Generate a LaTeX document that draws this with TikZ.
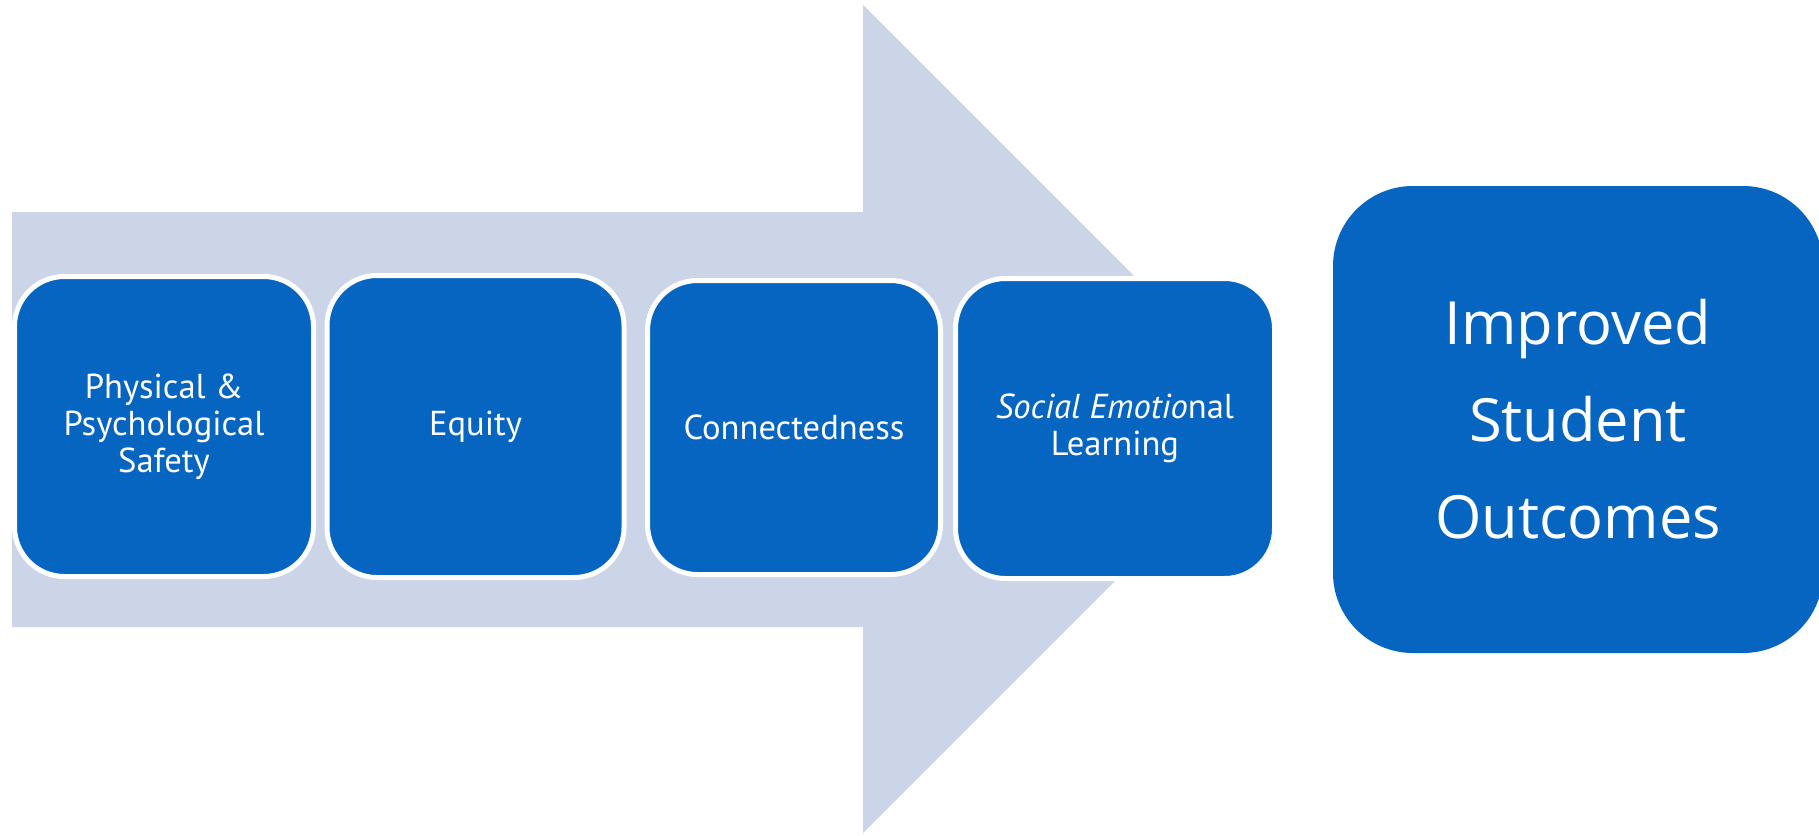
\documentclass[tikz,border=0pt]{standalone}
\usepackage{fontspec}
\setmainfont{PT Sans}
\newfontfamily\outfont{Open Sans}
\definecolor{arrowblue}{RGB}{204,212,232}
\definecolor{boxblue}{RGB}{5,101,192}
\begin{document}
\begin{tikzpicture}[x=.5pt, y=-.5pt,
  box/.style={fill=boxblue, draw=white, line width=2.5pt, rounded corners=25pt,
    text=white, align=center, inner sep=0pt,
    font=\fontsize{17.3}{18.6}\selectfont},
  bigbox/.style={fill=boxblue, rounded corners=40pt, text=white, align=center,
    inner sep=0pt, minimum width=245pt, minimum height=233.5pt,
    font=\outfont\fontsize{29.8}{48.5}\selectfont}]

\clip (0,0) rectangle (1819,835);
\fill[white] (0,0) rectangle (1819,835);

\fill[arrowblue] (12,212)--(863,212)--(863,5)--(1277,419)--(863,833)--(863,627)--(12,627)--cycle;

\node[box, minimum width=149.5pt, minimum height=150pt] (safety) at (164,426.5) {Physical \&\\Psychological\\Safety};
\node[box, minimum width=148.5pt, minimum height=151pt] (equity) at (475.5,426.5) {Equity};
\node[box, minimum width=146.5pt, minimum height=147pt] (connect) at (794,427.5) {Connectedness};
\node[box, minimum width=159.5pt, minimum height=150pt] (sel) at (1115,428.5) {\textit{Social Emotio}nal\\Learning};

\node[bigbox] (outcomes) at (1578,419.5) {Improved\\Student\\Outcomes};

\end{tikzpicture}
\end{document}
